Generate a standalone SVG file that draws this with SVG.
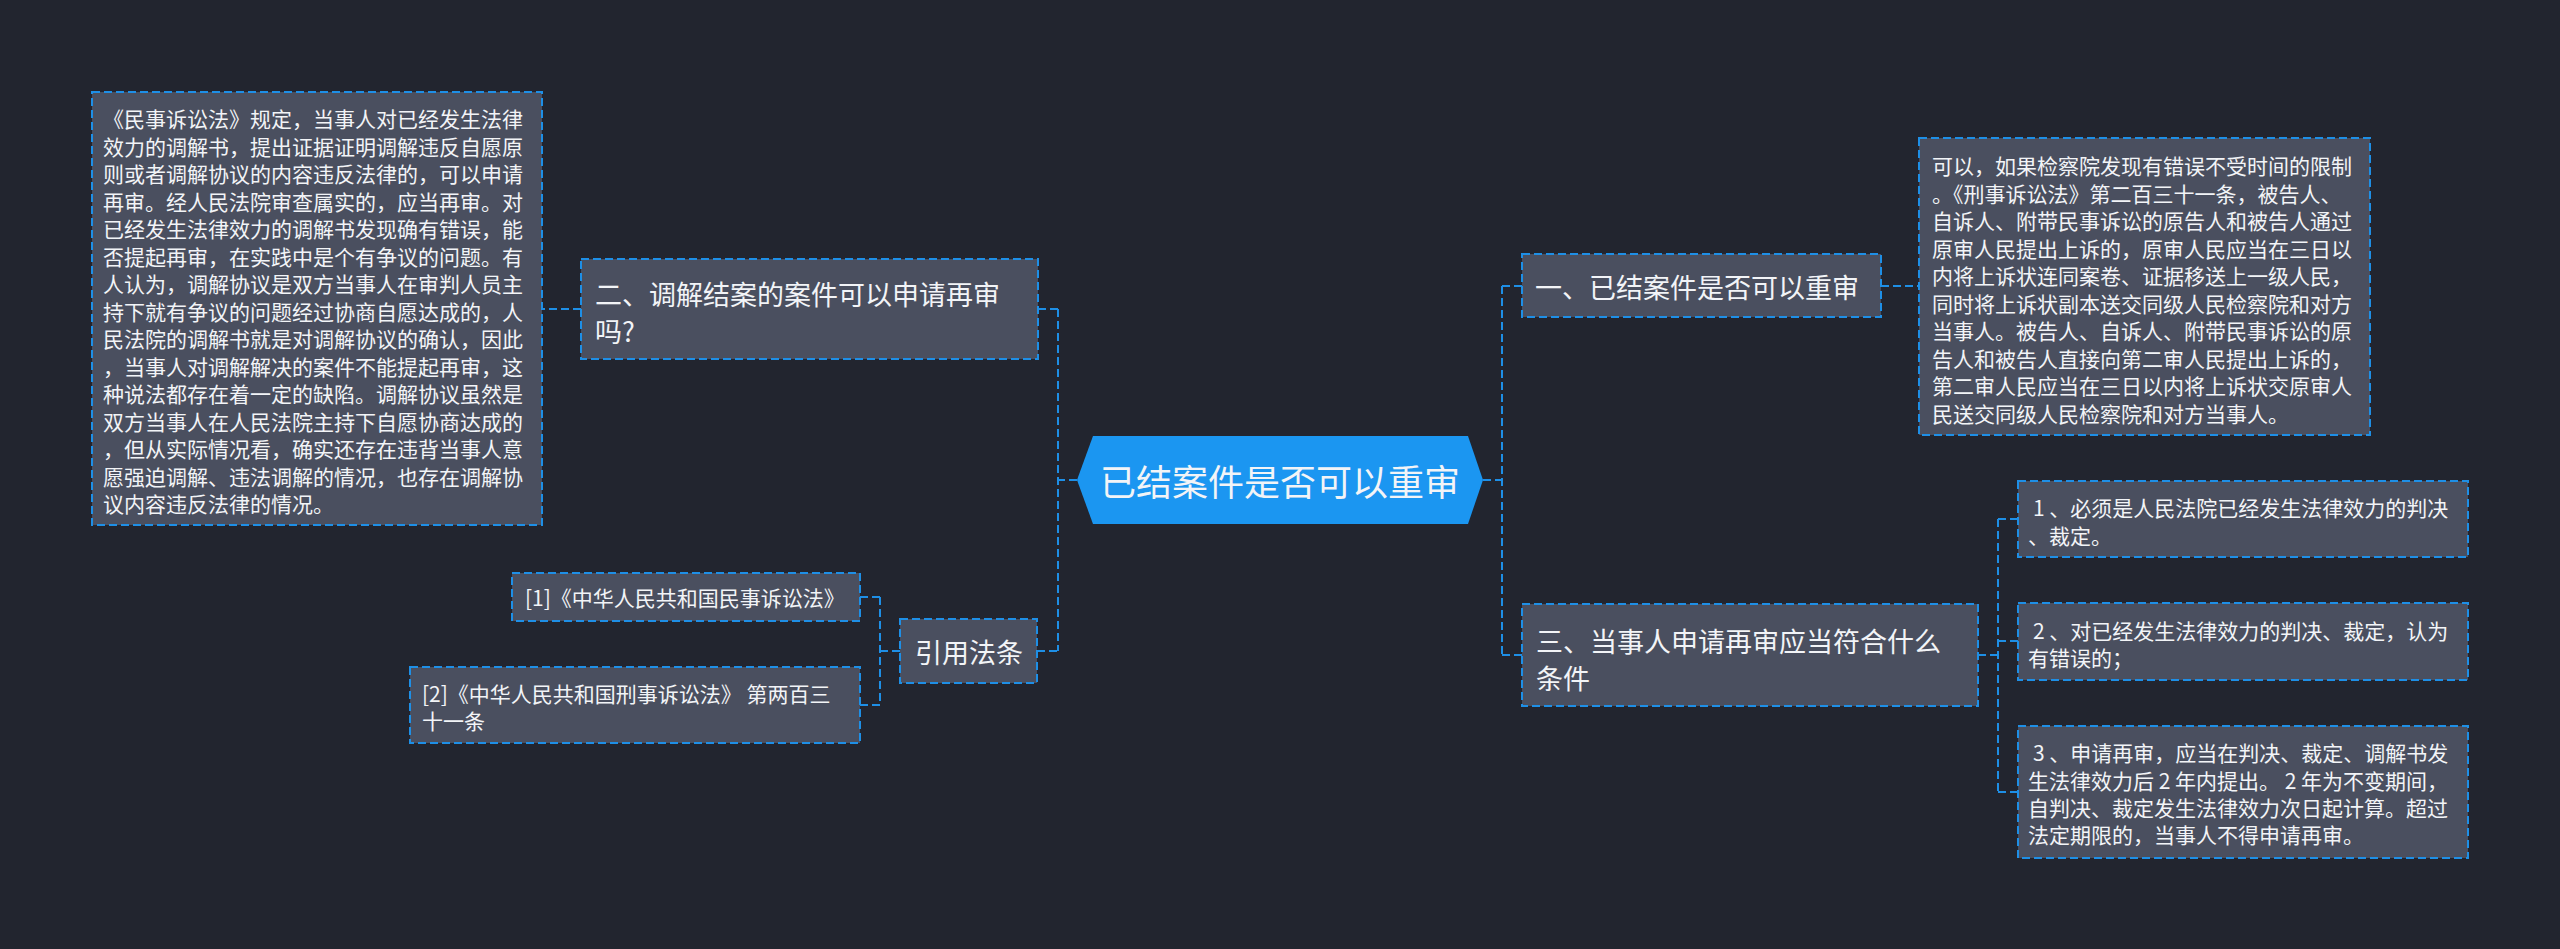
<svg xmlns="http://www.w3.org/2000/svg" width="2560" height="949" viewBox="0 0 2560 949">
<style>
.bg{fill:#22252f}
.box{fill:#4a4f5f;stroke:#1e8fe6;stroke-width:2;stroke-dasharray:8 4}
.ln{fill:none;stroke:#1e8fe6;stroke-width:2;stroke-dasharray:8 4}
text{font-family:"Noto Sans CJK SC","Noto Sans",sans-serif;fill:#f2f4f7;dominant-baseline:central}
.p{font-size:21px}
.h{font-size:27px}
.c{font-size:36px;text-anchor:middle}
</style>
<rect class="bg" x="0" y="0" width="2560" height="949"/>
<g id="connectors">
<path class="ln" d="M1077,480 H1058 M1058,309 V651 M1038,309 H1058 M1037,651 H1058"/>
<path class="ln" d="M581,309 H542"/>
<path class="ln" d="M900,651 H880 M880,597 V705 M860,597 H880 M860,705 H880"/>
<path class="ln" d="M1483,480 H1502 M1502,286 V655 M1502,286 H1522 M1502,655 H1522"/>
<path class="ln" d="M1881,286 H1919"/>
<path class="ln" d="M1978,655 H1998 M1998,519 V792 M1998,519 H2018 M1998,641 H2018 M1998,792 H2018"/>
</g>
<g id="center">
<polygon points="1077,480 1093,436 1468,436 1483,480 1468,524 1093,524" fill="#1b96f1"/>
<text class="c" x="1280" y="480">已结案件是否可以重审</text>
</g>
<g id="n2">
<rect class="box" x="581" y="259" width="457" height="100"/>
<text class="h" x="595" y="293">二、调解结案的案件可以申请再审</text>
<text class="h" x="595" y="330">吗?</text>
</g>
<g id="n2p">
<rect class="box" x="92" y="92" width="450" height="433"/>
<text class="p" x="103">
<tspan x="103" y="118">《民事诉讼法》规定，当事人对已经发生法律</tspan>
<tspan x="103" y="145.5">效力的调解书，提出证据证明调解违反自愿原</tspan>
<tspan x="103" y="173">则或者调解协议的内容违反法律的，可以申请</tspan>
<tspan x="103" y="200.5">再审。经人民法院审查属实的，应当再审。对</tspan>
<tspan x="103" y="228">已经发生法律效力的调解书发现确有错误，能</tspan>
<tspan x="103" y="255.5">否提起再审，在实践中是个有争议的问题。有</tspan>
<tspan x="103" y="283">人认为，调解协议是双方当事人在审判人员主</tspan>
<tspan x="103" y="310.5">持下就有争议的问题经过协商自愿达成的，人</tspan>
<tspan x="103" y="338">民法院的调解书就是对调解协议的确认，因此</tspan>
<tspan x="103" y="365.5">，当事人对调解解决的案件不能提起再审，这</tspan>
<tspan x="103" y="393">种说法都存在着一定的缺陷。调解协议虽然是</tspan>
<tspan x="103" y="420.5">双方当事人在人民法院主持下自愿协商达成的</tspan>
<tspan x="103" y="448">，但从实际情况看，确实还存在违背当事人意</tspan>
<tspan x="103" y="475.5">愿强迫调解、违法调解的情况，也存在调解协</tspan>
<tspan x="103" y="503">议内容违反法律的情况。</tspan>
</text>
</g>
<g id="ref">
<rect class="box" x="900" y="619" width="137" height="64"/>
<text class="h" x="915" y="651">引用法条</text>
</g>
<g id="ref1">
<rect class="box" x="512" y="573" width="348" height="48"/>
<text class="p" x="525" y="597">[1]《中华人民共和国民事诉讼法》</text>
</g>
<g id="ref2">
<rect class="box" x="410" y="667" width="450" height="76"/>
<text class="p" x="422" y="693">[2]《中华人民共和国刑事诉讼法》 第两百三</text>
<text class="p" x="422" y="720">十一条</text>
</g>
<g id="n1">
<rect class="box" x="1522" y="254" width="359" height="63"/>
<text class="h" x="1535" y="286">一、已结案件是否可以重审</text>
</g>
<g id="n1p">
<rect class="box" x="1919" y="138" width="451" height="297"/>
<text class="p">
<tspan x="1932" y="165">可以，如果检察院发现有错误不受时间的限制</tspan>
<tspan x="1932" y="192.5">。《刑事诉讼法》第二百三十一条，被告人、</tspan>
<tspan x="1932" y="220">自诉人、附带民事诉讼的原告人和被告人通过</tspan>
<tspan x="1932" y="247.5">原审人民提出上诉的，原审人民应当在三日以</tspan>
<tspan x="1932" y="275">内将上诉状连同案卷、证据移送上一级人民，</tspan>
<tspan x="1932" y="302.5">同时将上诉状副本送交同级人民检察院和对方</tspan>
<tspan x="1932" y="330">当事人。被告人、自诉人、附带民事诉讼的原</tspan>
<tspan x="1932" y="357.5">告人和被告人直接向第二审人民提出上诉的，</tspan>
<tspan x="1932" y="385">第二审人民应当在三日以内将上诉状交原审人</tspan>
<tspan x="1932" y="412.5">民送交同级人民检察院和对方当事人。</tspan>
</text>
</g>
<g id="n3">
<rect class="box" x="1522" y="604" width="456" height="102"/>
<text class="h" x="1536" y="640">三、当事人申请再审应当符合什么</text>
<text class="h" x="1536" y="677">条件</text>
</g>
<g id="n3a">
<rect class="box" x="2018" y="481" width="450" height="76"/>
<text class="p" x="2033" y="507">1 、必须是人民法院已经发生法律效力的判决</text>
<text class="p" x="2028" y="535">、裁定。</text>
</g>
<g id="n3b">
<rect class="box" x="2018" y="603" width="450" height="77"/>
<text class="p" x="2033" y="630">2 、对已经发生法律效力的判决、裁定，认为</text>
<text class="p" x="2028" y="657">有错误的；</text>
</g>
<g id="n3c">
<rect class="box" x="2018" y="726" width="450" height="132"/>
<text class="p" x="2033" y="752">3 、申请再审，应当在判决、裁定、调解书发</text>
<text class="p" x="2028" y="780">生法律效力后 2 年内提出。 2 年为不变期间，</text>
<text class="p" x="2028" y="807">自判决、裁定发生法律效力次日起计算。超过</text>
<text class="p" x="2028" y="834">法定期限的，当事人不得申请再审。</text>
</g>
</svg>
